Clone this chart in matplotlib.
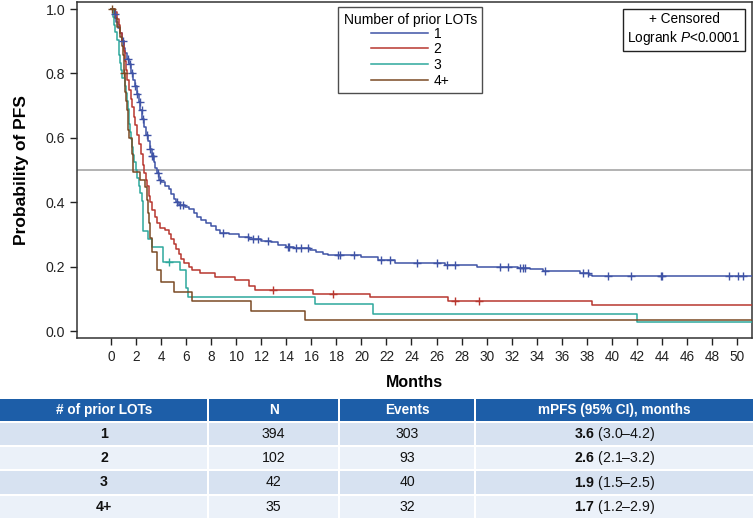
import numpy as np
import matplotlib
matplotlib.use("Agg")
import matplotlib.pyplot as plt
from matplotlib.patches import Rectangle

plt.rcParams['font.family'] = ['Liberation Sans', 'DejaVu Sans']
plt.rcParams['mathtext.fontset'] = 'custom'
plt.rcParams['mathtext.rm'] = 'Liberation Sans'
plt.rcParams['mathtext.it'] = 'Liberation Sans:italic'
plt.rcParams['mathtext.bf'] = 'Liberation Sans:bold'

# ---------------- data ----------------
groups = ['1', '2', '3', '4+']
colors = ['#3f53a6', '#b8372f', '#2ea89c', '#7a4a24']

t1 = [0, 0.2, 0.4, 0.55, 0.7, 0.85, 1.0, 1.15, 1.3, 1.45, 1.6, 1.75, 1.9, 2.05, 2.2, 2.35,
      2.5, 2.65, 2.8, 2.95, 3.1, 3.25, 3.4, 3.55, 3.65, 3.8, 4.0, 4.3, 4.6, 4.8, 5.0, 5.2,
      5.4, 5.9, 6.2, 6.6, 6.9, 7.2, 7.6, 8.0, 8.4, 8.7, 9.4, 10.2, 11.0, 12.0, 12.8, 13.3,
      14.0, 14.6, 15.9, 16.4, 16.9, 17.3, 20.0, 21.3, 22.7, 26.7, 29.2, 32.5, 33.5, 34.5,
      37.5, 38.2, 38.4]
s1 = [1.0, 0.985, 0.96, 0.94, 0.925, 0.90, 0.88, 0.865, 0.845, 0.83, 0.80, 0.78, 0.76, 0.735,
      0.71, 0.685, 0.66, 0.635, 0.61, 0.59, 0.565, 0.545, 0.525, 0.505, 0.49, 0.47, 0.462,
      0.452, 0.44, 0.425, 0.41, 0.40, 0.39, 0.385, 0.378, 0.368, 0.355, 0.345, 0.335, 0.326,
      0.315, 0.305, 0.300, 0.292, 0.286, 0.281, 0.276, 0.268, 0.262, 0.258, 0.252, 0.246,
      0.238, 0.236, 0.229, 0.220, 0.212, 0.204, 0.200, 0.196, 0.193, 0.186, 0.180, 0.175, 0.171]
c1 = [0.3, 0.98, 1.36, 1.5, 1.68, 1.9, 2.07, 2.3, 2.48, 2.56, 2.9, 3.1, 3.27, 3.35, 3.75, 3.9,
      5.27, 5.5, 5.75, 8.96, 10.96, 11.3, 11.7, 12.5, 14.1, 14.2, 14.8, 15.2, 15.7, 18.1, 18.3,
      19.4, 21.6, 22.3, 24.4, 26.0, 26.8, 27.5, 31.1, 31.7, 32.7, 32.9, 33.1, 34.7, 37.7, 38.1,
      39.7, 41.5, 43.9, 44.0, 49.4, 50.1, 50.5]

t2 = [0, 0.3, 0.45, 0.6, 0.75, 0.9, 1.0, 1.1, 1.2, 1.3, 1.45, 1.6, 1.7, 1.85, 1.95, 2.1, 2.25,
      2.4, 2.55, 2.65, 2.8, 2.9, 3.0, 3.15, 3.3, 3.5, 3.7, 3.9, 4.3, 4.6, 4.8, 5.0, 5.2, 5.4,
      5.6, 5.8, 6.2, 6.5, 7.1, 8.3, 9.9, 11.0, 11.5, 16.1, 20.7, 26.9, 38.4]
s2 = [1.0, 0.99, 0.97, 0.95, 0.925, 0.90, 0.87, 0.84, 0.81, 0.78, 0.75, 0.72, 0.695, 0.665,
      0.64, 0.61, 0.58, 0.55, 0.515, 0.49, 0.47, 0.45, 0.42, 0.40, 0.375, 0.355, 0.335, 0.32,
      0.314, 0.30, 0.285, 0.27, 0.255, 0.24, 0.225, 0.21, 0.20, 0.19, 0.18, 0.168, 0.158,
      0.14, 0.128, 0.116, 0.105, 0.094, 0.081]
c2 = [12.9, 17.7, 27.5, 29.4]

t3 = [0, 0.15, 0.2, 0.35, 0.5, 0.6, 0.65, 0.72, 0.8, 0.9, 1.1, 1.2, 1.28, 1.32, 1.4, 1.45,
      1.5, 1.6, 1.7, 1.76, 1.85, 2.0, 2.07, 2.2, 2.3, 2.45, 2.55, 2.95, 3.3, 4.15, 5.5, 5.95,
      6.15, 16.3, 20.9, 42.0]
s3 = [1.0, 0.976, 0.952, 0.929, 0.905, 0.881, 0.857, 0.833, 0.81, 0.786, 0.762, 0.738, 0.714,
      0.69, 0.667, 0.643, 0.619, 0.595, 0.571, 0.548, 0.524, 0.50, 0.476, 0.452, 0.429, 0.405,
      0.310, 0.286, 0.262, 0.214, 0.19, 0.133, 0.107, 0.083, 0.053, 0.027]
c3 = [4.66]

t4 = [0, 0.3, 0.5, 0.7, 0.88, 0.95, 1.0, 1.05, 1.1, 1.15, 1.2, 1.28, 1.32, 1.36, 1.4, 1.7,
      1.76, 2.3, 2.7, 2.85, 2.96, 3.05, 3.1, 3.3, 3.67, 4.0, 5.0, 6.5, 11.2, 15.5]
s4 = [1.0, 0.971, 0.943, 0.914, 0.886, 0.857, 0.829, 0.80, 0.771, 0.743, 0.714, 0.685, 0.655,
      0.625, 0.60, 0.55, 0.494, 0.469, 0.447, 0.407, 0.366, 0.335, 0.29, 0.245, 0.19, 0.152,
      0.121, 0.093, 0.062, 0.033]
c4 = [0.1, 1.05]

times = [t1, t2, t3, t4]
survs = [s1, s2, s3, s4]
cens = [c1, c2, c3, c4]
t_end = 52

# table data
tab_header = ['# of prior LOTs', 'N', 'Events', 'mPFS (95% CI), months']
tab_n = [394, 102, 42, 35]
tab_events = [303, 93, 40, 32]
tab_mpfs = [3.6, 2.6, 1.9, 1.7]
tab_lo = [3.0, 2.1, 1.5, 1.2]
tab_hi = [4.2, 3.2, 2.5, 2.9]

# ---------------- figure ----------------
W, H = 755, 520
fig = plt.figure(figsize=(W / 100, H / 100), dpi=100)
ax = fig.add_axes([77 / W, 1 - 338 / H, (752 - 77) / W, (338 - 2) / H])

ax.axhline(0.5, color='#a6a6a6', lw=1.2, zorder=1)

for t, s, c, col, lab in zip(times, survs, cens, colors, groups):
    t = np.array(t, float)
    s = np.array(s, float)
    tt = np.append(t, t_end)
    ss = np.append(s, s[-1])
    ax.step(tt, ss, where='post', color=col, lw=1.1, label=lab, zorder=3)
    c = np.array(c, float)
    idx = np.searchsorted(t, c, side='right') - 1
    ax.plot(c, s[idx], ls='none', marker='+', ms=5.5, mew=1.0, color=col, zorder=4)

ax.set_xlim(-2.72, 51.2)
ax.set_ylim(-0.0217, 1.022)
ax.set_xticks(np.arange(0, 51, 2))
ax.set_yticks(np.arange(0, 1.01, 0.2))
ax.set_yticklabels([f'{v:.1f}' for v in np.arange(0, 1.01, 0.2)])
ax.tick_params(direction='out', length=5, width=1, colors='#222222')
ax.tick_params(axis='x', labelsize=9.8)
ax.tick_params(axis='y', labelsize=10.2)
for sp in ax.spines.values():
    sp.set_linewidth(1.1)
    sp.set_color('#333333')
ax.set_xlabel('Months', fontsize=11.5, fontweight='bold', labelpad=8)
ax.set_ylabel('Probability of PFS', fontsize=12.5, fontweight='bold', labelpad=12)

leg = ax.legend(title='Number of prior LOTs', loc='upper left',
                bbox_to_anchor=((338 - 77) / (752 - 77), 1 - 5 / 336),
                frameon=True, fancybox=False, edgecolor='#222222', fontsize=10,
                title_fontsize=10, handlelength=4.1, handletextpad=0.4,
                labelspacing=0.12, borderpad=0.4, borderaxespad=0,
                alignment='center')
leg.get_frame().set_linewidth(1.0)
leg._legend_box.sep = 0

ax.text((684 - 77) / (752 - 77), 1 - 10 / 336, '+ Censored\nLogrank $P$<0.0001',
        transform=ax.transAxes, ha='center', va='top', fontsize=9.8, linespacing=1.2,
        bbox=dict(boxstyle='square,pad=0.35', fc='white', ec='#222222', lw=1.0))

# ---------------- table ----------------
tax = fig.add_axes([0, 0, 1, 1])
tax.set_xlim(0, W)
tax.set_ylim(H, 0)
tax.axis('off')

col_edges = [0, 208, 339, 475, 754]
row_edges = [(399, 421), (423, 445), (447, 469), (471, 494), (496, 518)]
header_col = '#1d5ea8'
row_cols = ['#d7e2f1', '#ebf1f9']

for j in range(4):
    x0, x1 = col_edges[j], col_edges[j + 1]
    gap = 1 if j > 0 else 0
    y0, y1 = row_edges[0]
    tax.add_patch(Rectangle((x0 + gap, y0), x1 - x0 - gap - 1, y1 - y0, fc=header_col, ec='none'))
    tax.text((x0 + x1) / 2, (y0 + y1) / 2, tab_header[j], ha='center', va='center',
             color='white', fontsize=9.8, fontweight='bold')
    for i in range(4):
        y0, y1 = row_edges[i + 1]
        tax.add_patch(Rectangle((x0 + gap, y0), x1 - x0 - gap - 1, y1 - y0,
                                fc=row_cols[i % 2], ec='none'))

cx = [(col_edges[j] + col_edges[j + 1]) / 2 for j in range(4)]
for i in range(4):
    y0, y1 = row_edges[i + 1]
    yc = (y0 + y1) / 2
    tax.text(cx[0], yc, groups[i], ha='center', va='center', fontsize=10.2, fontweight='bold',
             color='#111111')
    tax.text(cx[1], yc, str(tab_n[i]), ha='center', va='center', fontsize=10.2, color='#111111')
    tax.text(cx[2], yc, str(tab_events[i]), ha='center', va='center', fontsize=10.2, color='#111111')
    tax.text(cx[3], yc, f'$\\mathbf{{{tab_mpfs[i]:.1f}}}$ ({tab_lo[i]:.1f}\u2013{tab_hi[i]:.1f})',
             ha='center', va='center', fontsize=10.2, color='#111111')

fig.savefig('out.png', dpi=100)
